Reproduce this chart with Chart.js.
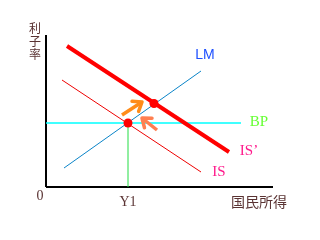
<!DOCTYPE html>
<html>
<head>
<meta charset="utf-8">
<script src="https://cdn.jsdelivr.net/npm/chart.js@4"></script>
<style>
  html, body { margin: 0; padding: 0; background: #fff; }
  #wrap { width: 320px; height: 240px; }
</style>
</head>
<body>
<div id="wrap"><canvas id="islm"></canvas></div>
<script>
// 曲線 (x = 国民所得, y = 利子率)
const lmLine = [{ x: 18, y: 19 }, { x: 155, y: 116 }];
const isLine = [{ x: 16, y: 107 }, { x: 155, y: 15 }];
const isShift = [{ x: 21, y: 141 }, { x: 183, y: 35 }];
const bpLine = [{ x: 0, y: 64 }, { x: 195, y: 64 }];
const y1Line = [{ x: 82, y: 0 }, { x: 82, y: 64 }];
const eqPoints = [{ x: 82, y: 64 }, { x: 108, y: 83.5 }];
const arrowUp = [{ x: 76, y: 72 }, { x: 96, y: 85 }];
const arrowDown = [{ x: 111, y: 57 }, { x: 96, y: 69 }];
const axisX = [{ x: 0, y: 0 }, { x: 227, y: 0 }];
const axisY = [{ x: 0, y: 0 }, { x: 0, y: 152 }];

const labels = [
  { text: "LM", x: 159, y: 132, color: "#1e50ff", font: "14px 'Liberation Sans'" },
  { text: "BP", x: 213, y: 65, color: "#66ff33", font: "15px 'Liberation Serif'" },
  { text: "IS’", x: 203, y: 36, color: "#ff1a8c", font: "15px 'Liberation Serif'" },
  { text: "IS", x: 173, y: 15, color: "#ff1a8c", font: "15px 'Liberation Serif'" },
  { text: "0", x: -6, y: -9, color: "#5a3333", font: "14px 'Liberation Serif'" },
  { text: "Y1", x: 82, y: -15, color: "#5a3333", font: "14px 'Liberation Serif'" },
  { text: "国民所得", x: 213, y: -15, color: "#5a3333", font: "14px 'Noto Sans CJK JP'" },
];
const yTitle = ["利", "子", "率"];

const line = (data, color, width) => ({
  type: "line",
  data: data,
  borderColor: color,
  borderWidth: width,
  pointRadius: 0,
  fill: false,
  clip: false,
});

// 矢印の頭と文字
const extrasPlugin = {
  id: "extras",
  afterDatasetsDraw(chart) {
    const { ctx, scales } = chart;
    const px = (p) => [scales.x.getPixelForValue(p.x), scales.y.getPixelForValue(p.y)];

    [[arrowUp, "#ff8c1a"], [arrowDown, "#ff7f50"]].forEach(([a, color]) => {
      const [x0, y0] = px(a[0]);
      const [x1, y1] = px(a[1]);
      const ang = Math.atan2(y1 - y0, x1 - x0);
      ctx.save();
      ctx.strokeStyle = color;
      ctx.lineWidth = 3.5;
      ctx.lineCap = "round";
      ctx.lineJoin = "round";
      ctx.beginPath();
      ctx.moveTo(x1 - 10 * Math.cos(ang - 0.65), y1 - 10 * Math.sin(ang - 0.65));
      ctx.lineTo(x1, y1);
      ctx.lineTo(x1 - 10 * Math.cos(ang + 0.65), y1 - 10 * Math.sin(ang + 0.65));
      ctx.stroke();
      ctx.restore();
    });

    ctx.save();
    ctx.textAlign = "center";
    ctx.textBaseline = "middle";
    labels.forEach((l) => {
      const [x, y] = px(l);
      ctx.font = l.font;
      ctx.fillStyle = l.color;
      ctx.fillText(l.text, x, y);
    });
    ctx.font = "12px 'Noto Sans CJK JP'";
    ctx.fillStyle = "#5a3333";
    const tx = scales.x.getPixelForValue(0) - 11;
    yTitle.forEach((c, i) => ctx.fillText(c, tx, 28 + i * 13));
    ctx.restore();
  },
};

new Chart(document.getElementById("islm").getContext("2d"), {
  type: "scatter",
  data: {
    // 先頭のデータセットが一番上に描かれる
    datasets: [
      {
        type: "scatter",
        data: eqPoints,
        backgroundColor: "#ff0000",
        borderWidth: 0,
        pointRadius: 4.5,
        clip: false,
      },
      line(arrowUp, "#ff8c1a", 3.5),
      line(arrowDown, "#ff7f50", 3.5),
      line(isShift, "#ff0000", 4),
      line(isLine, "#ee0000", 1),
      line(lmLine, "#0a84c8", 1),
      line(bpLine, "#00ffff", 1.5),
      line(y1Line, "#22dd44", 1),
      line(axisY, "#000000", 2),
      line(axisX, "#000000", 2),
    ],
  },
  options: {
    responsive: true,
    maintainAspectRatio: false,
    animation: false,
    layout: { padding: { left: 46, top: 35, right: 47, bottom: 53 } },
    plugins: { legend: { display: false }, tooltip: { enabled: false } },
    scales: {
      x: { type: "linear", min: 0, max: 227, display: false },
      y: { type: "linear", min: 0, max: 152, display: false },
    },
  },
  plugins: [extrasPlugin],
});
</script>
</body>
</html>
